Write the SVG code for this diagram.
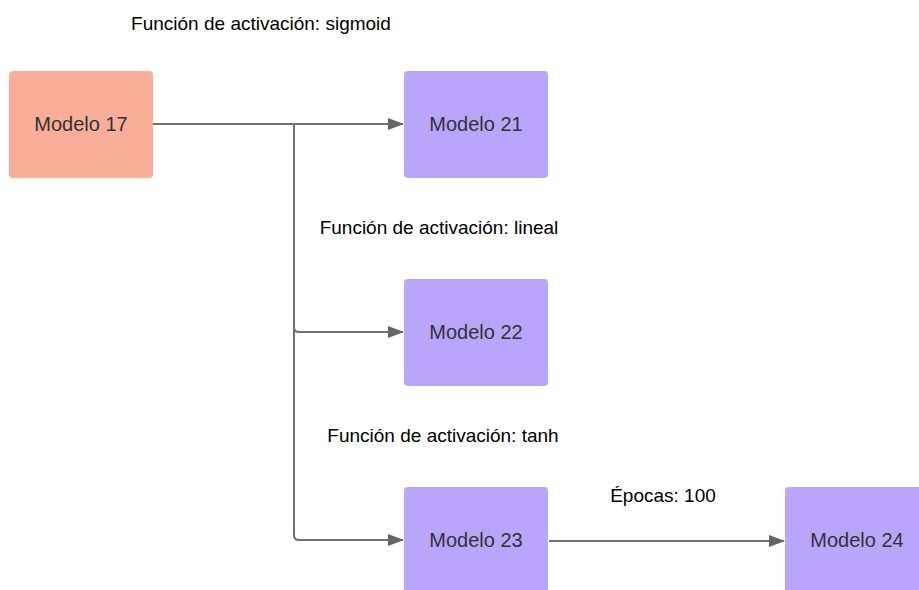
<svg xmlns="http://www.w3.org/2000/svg" width="919" height="590" viewBox="0 0 919 590">
<style>
.node{stroke:none}
.n17{fill:#f8ae98}
.nv{fill:#b9a6fc}
.nt{font-family:"Liberation Sans",Arial,sans-serif;font-size:20px;fill:#333333;text-anchor:middle}
.lbl{font-family:"Liberation Sans",Arial,sans-serif;font-size:19px;fill:#000000;text-anchor:middle}
.edge{fill:none;stroke:#707070;stroke-width:2}
</style>
<defs>
<marker id="arr" markerWidth="16" markerHeight="12" refX="15" refY="6" orient="auto" markerUnits="userSpaceOnUse">
<path d="M0,0 L16,6 L0,12 Z" fill="#666666"/>
</marker>
</defs>
<rect width="919" height="590" fill="#ffffff"/>
<text class="lbl" x="261" y="30">Función de activación: sigmoid</text>
<text class="lbl" x="439" y="234">Función de activación: lineal</text>
<text class="lbl" x="443" y="442">Función de activación: tanh</text>
<text class="lbl" x="663" y="502">Épocas: 100</text>
<g id="connectors">
<path class="edge" d="M153,124 L403,124" marker-end="url(#arr)"/>
<path class="edge" d="M294,124 L294,327 Q294,332 299,332 L403,332" marker-end="url(#arr)"/>
<path class="edge" d="M294,327 L294,535 Q294,540 299,540 L403,540" marker-end="url(#arr)"/>
<path class="edge" d="M549,541 L784,541" marker-end="url(#arr)"/>
</g>
<g id="node17"><rect class="node n17" x="9" y="71" width="144" height="107" rx="4"/><text class="nt" x="81" y="131">Modelo 17</text></g>
<g id="node21"><rect class="node nv" x="404" y="71" width="144" height="107" rx="4"/><text class="nt" x="476" y="131">Modelo 21</text></g>
<g id="node22"><rect class="node nv" x="404" y="279" width="144" height="107" rx="4"/><text class="nt" x="476" y="339">Modelo 22</text></g>
<g id="node23"><rect class="node nv" x="404" y="487" width="144" height="107" rx="4"/><text class="nt" x="476" y="547">Modelo 23</text></g>
<g id="node24"><rect class="node nv" x="785" y="487" width="144" height="107" rx="4"/><text class="nt" x="857" y="547">Modelo 24</text></g>
</svg>
